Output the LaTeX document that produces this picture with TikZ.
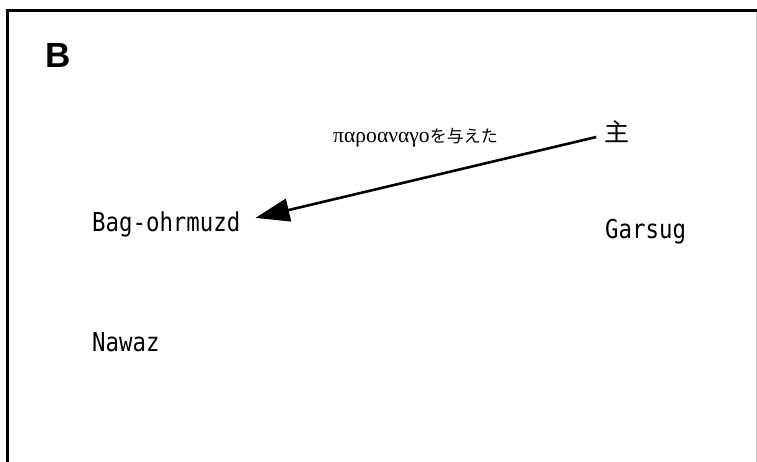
\documentclass[tikz,border=0pt]{standalone}
\usepackage{fontspec}
\setmainfont{Liberation Serif}
\newfontfamily\monofam[FakeStretch=0.86]{DejaVu Sans Mono}
\newfontfamily\boldsans{Liberation Sans}
\newfontfamily\cjkfam{Noto Sans CJK JP}
\newfontfamily\greekfam{Liberation Serif}
\usetikzlibrary{arrows.meta}
\begin{document}
\begin{tikzpicture}[x=1pt,y=-1pt,
  person/.style={font=\monofam\fontsize{26}{30}\selectfont, inner sep=0pt, anchor=base west},
  arrowline/.style={line width=2.6pt, -{Triangle[length=34pt,width=23pt]}}]
\useasboundingbox (0,0) rectangle (757,462);
\draw[line width=3pt] (7,480) -- (7,11) -- (760,11) -- (760,480);
\draw[gray!40, line width=0.8pt] (756.5,12.5) -- (756.5,480);
\node[font=\boldsans\bfseries\fontsize{35}{40}\selectfont, inner sep=0pt, anchor=base west] (panel) at (45.5,68) {B};
\node[person] (bag) at (92,232) {Bag-ohrmuzd};
\node[person] (garsug) at (605,239) {Garsug};
\node[person] (nawaz) at (92,351) {Nawaz};
\node[font=\cjkfam\fontsize{25}{28}\selectfont, inner sep=0pt] (lord) at (617,132) {主};
\node[inner sep=0pt, anchor=base west] (lbl) at (333,143)
  {{\greekfam\fontsize{21.6}{24}\selectfont παροαναγο}{\cjkfam\fontsize{17}{19}\selectfont を与えた}};
\draw[arrowline] ([xshift=-8pt,yshift=-5pt]lord.west) -- ([xshift=15pt,yshift=7pt]bag.east);
\end{tikzpicture}
\end{document}
